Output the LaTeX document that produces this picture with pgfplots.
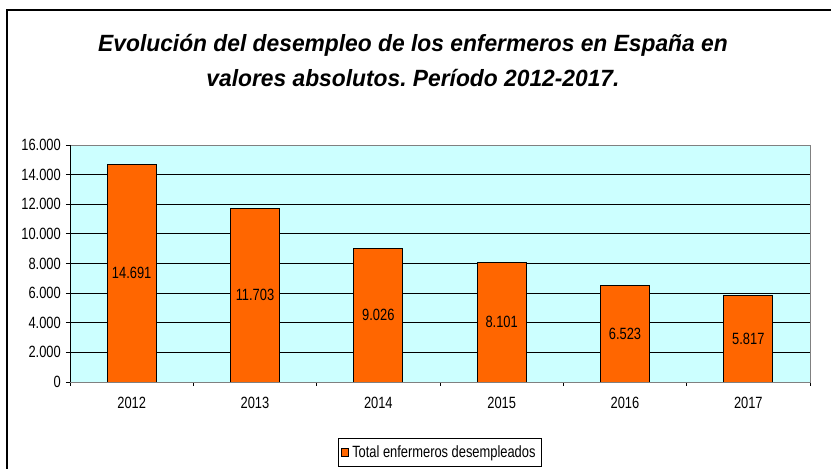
\documentclass[border=0pt]{standalone}
\usepackage{pgfplots}
\pgfplotsset{compat=1.18}
\usepackage{pgfplotstable}
\usepackage{fontspec}
\setmainfont{Liberation Sans}
\newfontfamily\smallfont{Liberation Sans}[FakeStretch=0.79]
\newfontfamily\titlefont{Liberation Sans}[FakeStretch=0.97]
\newcommand{\lblfont}{\smallfont\fontsize{16.3}{18}\selectfont}
\definecolor{barorange}{HTML}{FF6600}
\definecolor{bgcyan}{HTML}{CCFFFF}
\frenchspacing
\pgfplotstableread{
x y
0 14691
1 11703
2 9026
3 8101
4 6523
5 5817
}\datatable
\begin{document}
\begin{tikzpicture}
\path[use as bounding box] (0pt,0pt) rectangle (831pt,469pt);
\draw[line width=1.5pt] (7pt,0pt) -- (7pt,459pt) -- (831pt,459pt);
\node[anchor=base,font=\titlefont\fontsize{23.5}{27}\selectfont\bfseries\itshape] at (413pt,417pt) {Evolución del desempleo de los enfermeros en España en};
\node[anchor=base,font=\titlefont\fontsize{23.5}{27}\selectfont\bfseries\itshape] at (413pt,382pt) {valores absolutos. Período 2012-2017.};
\begin{axis}[
  at={(70pt,87pt)}, anchor=south west,
  scale only axis, width=740pt, height=237pt,
  ybar, bar width=49pt,
  xmin=-0.5, xmax=5.5, ymin=0, ymax=16000,
  ytick distance=2000,
  scaled y ticks=false,
  xtick={-0.5,0.5,...,5.5},
  x tick label as interval=true,
  xticklabels={2012,2013,2014,2015,2016,2017},
  tick pos=left,
  ymajorgrids, grid style={black, line width=0.8pt},
  axis background/.style={fill=bgcyan},
  axis line style={draw=gray, line width=0.8pt},
  tick align=outside, major tick length=4pt,
  tick style={black, line width=0.8pt},
  ticklabel style={font=\lblfont},
  xticklabel style={anchor=base, yshift=-22pt},
  yticklabel style={anchor=east, inner xsep=0pt, xshift=-5pt},
  /pgf/number format/.cd, assume math mode=true, fixed, precision=0, 1000 sep={.},
  /pgfplots/.cd,
  legend cell align=left,
  legend style={at={(0.5,-0.297)}, anchor=center, draw=black, line width=0.8pt,
    font=\lblfont, inner xsep=3pt, inner ysep=4.5pt,
    nodes={inner xsep=3pt, inner ysep=3pt}},
  legend image code/.code={\draw[#1, line width=0.8pt] (0pt,-4pt) rectangle (7pt,4pt);},
]
\addplot[fill=barorange, draw=black, line width=0.8pt] table[x=x,y=y] {\datatable};
\addlegendentry{Total enfermeros desempleados}
\addplot[draw=none, fill=none, bar shift=0pt, forget plot,
  y filter/.expression={y/2}, point meta=rawy,
  nodes near coords={\pgfmathprintnumber[fixed,precision=0,1000 sep={.},assume math mode=true]{\pgfplotspointmeta}},
  every node near coord/.append style={anchor=center, font=\lblfont, black}]
  table[x=x,y=y] {\datatable};
\draw[black, line width=0.8pt] (axis cs:-0.5,16000) -- (axis cs:-0.5,0) -- (axis cs:5.5,0);
\end{axis}
\end{tikzpicture}
\end{document}
